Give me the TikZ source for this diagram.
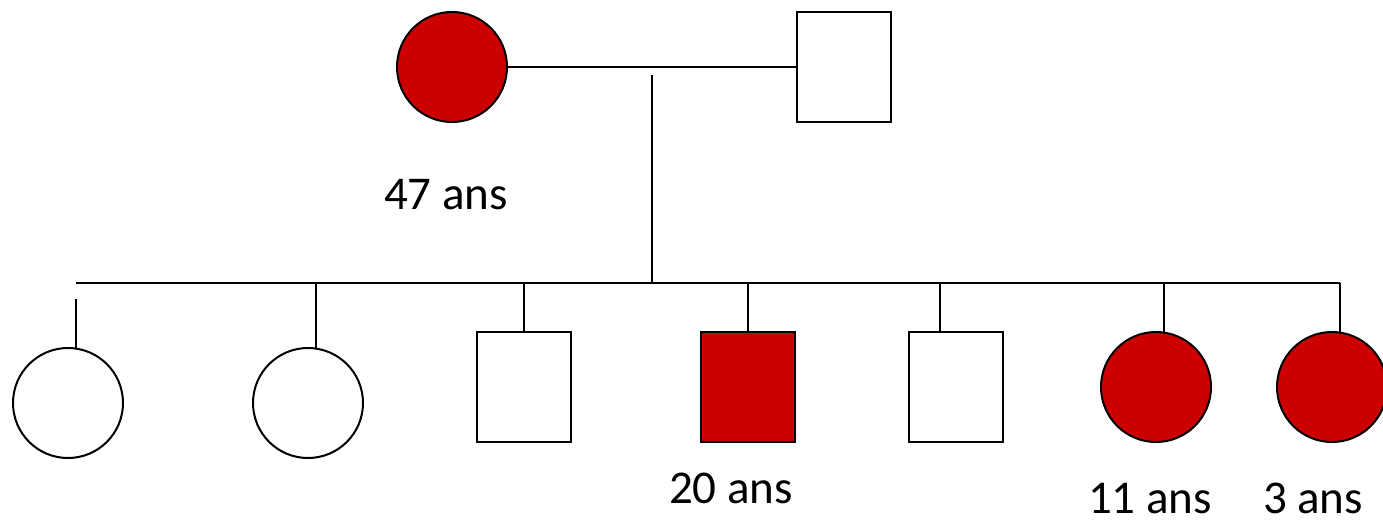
\documentclass[tikz,border=0pt]{standalone}
\usepackage{fontspec}
\setmainfont{Carlito}
\definecolor{affected}{HTML}{CC0000}
\tikzset{
  person/.style={draw=black, line width=2pt, inner sep=0pt, outer sep=0pt},
  female/.style={person, circle, minimum size=110pt},
  male/.style={person, rectangle, minimum width=94pt, minimum height=110pt},
  ill/.style={fill=affected},
  link/.style={draw=black, line width=2pt},
  age/.style={anchor=base, inner sep=0pt, text depth=0pt, font=\fontsize{47}{56}\selectfont}
}
\begin{document}
\begin{tikzpicture}[x=1pt, y=-1pt]
  \useasboundingbox (0,0) rectangle (1383,521);

  % parents
  \node[female, ill] (mother) at (452,67) {};
  \node[male] (father) at (843.5,67) {};
  \node[age] (agemother) at (446,210) {47 ans};

  % children
  \node[female] (c1) at (68,403) {};
  \node[female] (c2) at (308,403) {};
  \node[male] (c3) at (524,387) {};
  \node[male, ill] (c4) at (748,387) {};
  \node[male] (c5) at (956,387) {};
  \node[female, ill] (c6) at (1156,387) {};
  \node[female, ill] (c7) at (1332,387) {};

  \node[age] (age4) at (731,503) {20 ans};
  \node[age] (age6) at (1150,513) {11 ans};
  \node[age] (age7) at (1313,513) {3 ans};

  % line of descent and sibship line
  \coordinate (drop) at (652,75);
  \coordinate (sib) at (652,283);
  \coordinate (sibL) at (76,283);
  \coordinate (sibR) at (1340,283);
  \coordinate (s1) at (76,299);
  \coordinate (s2) at (316,283);
  \coordinate (s3) at (524,283);
  \coordinate (s4) at (748,283);
  \coordinate (s5) at (940,283);
  \coordinate (s6) at (1164,283);

  \draw[link] (mother.east) -- (father.west);
  \draw[link] (drop) -- (sib);
  \draw[link] (sibL) -- (sibR);

  \draw[link] (s1) -- (s1 |- c1.north);
  \draw[link] (s2) -- (s2 |- c2.north);
  \draw[link] (s3) -- (c3.north);
  \draw[link] (s4) -- (c4.north);
  \draw[link] (s5) -- (s5 |- c5.north);
  \draw[link] (s6) -- (s6 |- c6.north);
  \draw[link] (sibR) -- (sibR |- c7.north);
\end{tikzpicture}
\end{document}
